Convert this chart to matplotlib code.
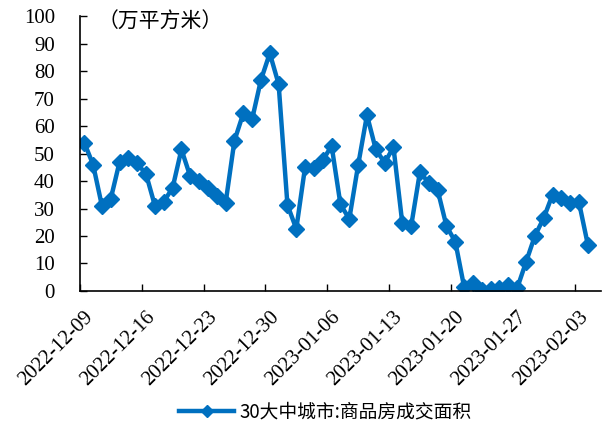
import numpy as np
import pandas as pd
import matplotlib
matplotlib.use("Agg")
import matplotlib.pyplot as plt
import matplotlib.transforms as mtransforms

# daily series, 2022-12-09 .. 2023-02-04
dates = pd.date_range("2022-12-09", periods=58, freq="D")
area = [54, 46, 31, 33.5, 47, 48.5, 46.4, 42.5, 31, 32.5,
        37.5, 51.5, 41.7, 40, 37.5, 34.5, 32, 54.7, 64.6, 62.5,
        76.8, 86.5, 75.3, 31.3, 22.6, 45.2, 44.6, 47.6, 52.8, 31.5,
        26.2, 45.8, 64, 51.5, 46.7, 52.3, 24.6, 23.6, 43.4, 39.2,
        36.7, 23.6, 17.9, 1.4, 2.8, 0.5, 0.6, 1, 2, 1,
        10.5, 20, 26.5, 35, 33.8, 32, 32.2, 16.8]
label_every = 7
series_name = "30大中城市:商品房成交面积"
unit_text = "（万平方米）"

blue = "#0070C0"
cjk = ["Noto Sans CJK SC", "DejaVu Sans"]
plt.rcParams["font.family"] = "serif"
plt.rcParams["font.serif"] = ["Liberation Serif", "Times New Roman", "DejaVu Serif"]

fig = plt.figure(figsize=(6.14, 4.26), dpi=100)
ax = fig.add_axes([0.130, 0.317, 0.849, 0.645])

x = np.arange(len(area))
ax.plot(x, area, color=blue, lw=3.2, marker="D", ms=8.5, mec=blue, mfc=blue,
        label=series_name, solid_joinstyle="miter")

ax.set_ylim(0, 100)
ax.set_yticks(np.arange(0, 101, 10))
ax.set_xlim(-0.5, len(area) + 0.5)
tick_pos = np.arange(0, len(area), label_every) - 0.5
ax.set_xticks(tick_pos)
ax.set_xticklabels([d.strftime("%Y-%m-%d") for d in dates[::label_every]],
                   rotation=45, ha="right", va="top", rotation_mode="anchor")

ax.tick_params(axis="both", direction="in", length=5, width=1, colors="black")
ax.tick_params(axis="x", pad=12, labelsize=15)
ax.tick_params(axis="y", pad=18, labelsize=15)
for s in ["top", "right"]:
    ax.spines[s].set_visible(False)
for s in ["left", "bottom"]:
    ax.spines[s].set_linewidth(1.2)

# nudge the rotated date labels a little to the right, like the original
shift = mtransforms.ScaledTranslation(4 / 100, 0, fig.dpi_scale_trans)
for lab in ax.get_xticklabels():
    lab.set_transform(lab.get_transform() + shift)

fig.text(98 / 614, 1 - 22 / 426, unit_text, family=cjk, fontsize=15,
         ha="left", va="center")

leg = fig.legend(loc="center", bbox_to_anchor=(0.53, 1 - 412 / 426), frameon=False,
                 prop={"family": cjk, "size": 13.5}, handlelength=2.9,
                 markerscale=0.75, handletextpad=0.3)

fig.savefig("out.png", dpi=100)
